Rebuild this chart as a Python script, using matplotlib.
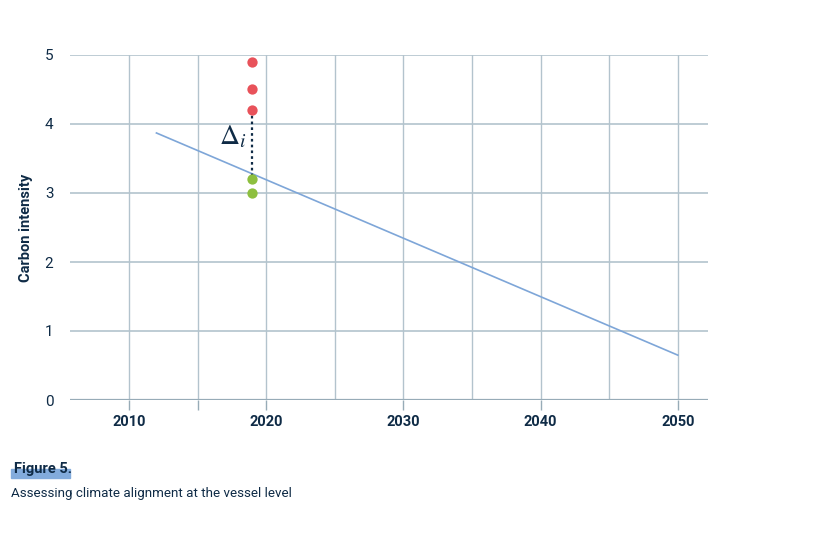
import matplotlib.pyplot as plt
from matplotlib.patches import Rectangle

# data
years_red = [2019, 2019, 2019]
intensity_red = [4.9, 4.5, 4.2]
years_green = [2019, 2019]
intensity_green = [3.2, 3.0]
path_years = [2012, 2050]
path_values = [3.87, 0.65]
gap_year = 2019
gap_top = 4.2
gap_bottom = 3.2
xtick_labels = [2010, 2020, 2030, 2040, 2050]
ytick_labels = [0, 1, 2, 3, 4, 5]

navy = '#0f2b46'
grid_col = '#b3c3cd'

plt.rcParams['font.family'] = ['Roboto', 'DejaVu Sans']
plt.rcParams['mathtext.fontset'] = 'stix'

fig = plt.figure(figsize=(8.32, 5.38), dpi=100)
ax = fig.add_axes([70 / 832, 138 / 538, 638 / 832, 345 / 538])

ax.set_xlim(2005.7, 2052.2)
ax.set_ylim(0, 5)

# grid
for y in ytick_labels[1:]:
    ax.axhline(y, color=grid_col, lw=1.2, zorder=1)
for x in range(2010, 2051, 5):
    ax.axvline(x, color=grid_col, lw=1.0, zorder=1)
ax.axhline(0, color='#97abb7', lw=1.6, zorder=2)

for s in ax.spines.values():
    s.set_visible(False)

ax.set_xticks([2010, 2015, 2020, 2030, 2040, 2050])
ax.set_xticklabels(['2010', '', '2020', '2030', '2040', '2050'],
                   fontsize=10.5, fontweight='bold', color=navy)
ax.tick_params(axis='x', length=7, width=1.0, color='#97abb7', pad=4)
ax.set_yticks(ytick_labels)
ax.set_yticklabels([str(v) for v in ytick_labels], fontsize=11, color=navy)
ax.tick_params(axis='y', length=0, pad=12)

ax.set_ylabel('Carbon intensity', fontsize=10.5, fontweight='bold', color=navy, labelpad=8)

# pathway line
ax.plot(path_years, path_values, color='#7ea6d8', lw=1.2, zorder=3)

# gap indicator
ax.plot([gap_year, gap_year], [gap_top, gap_bottom], color=navy, lw=1.6,
        linestyle=(0, (1.2, 1.4)), zorder=4)
ax.scatter(years_red, intensity_red, s=55, color='#e8525a', zorder=5, linewidths=0)
ax.scatter(years_green, intensity_green, s=55, color='#8dbf3f', zorder=5, linewidths=0)
ax.text(2017.6, 3.82, r'$\Delta_i$', fontsize=20, color=navy, ha='center', va='center', zorder=6)

# caption
fig.patches.append(Rectangle((11 / 832, 1 - 478 / 538), 59 / 832, 9 / 538,
                             transform=fig.transFigure, color='#82abdc', zorder=0))
fig.text(14 / 832, 1 - 469 / 538, 'Figure 5.', fontsize=10.5, fontweight='bold',
         color=navy, va='center', zorder=3)
fig.text(11 / 832, 1 - 493 / 538, 'Assessing climate alignment at the vessel level',
         fontsize=9.6, color=navy, va='center')

fig.savefig('out.png', dpi=100, facecolor='white')
